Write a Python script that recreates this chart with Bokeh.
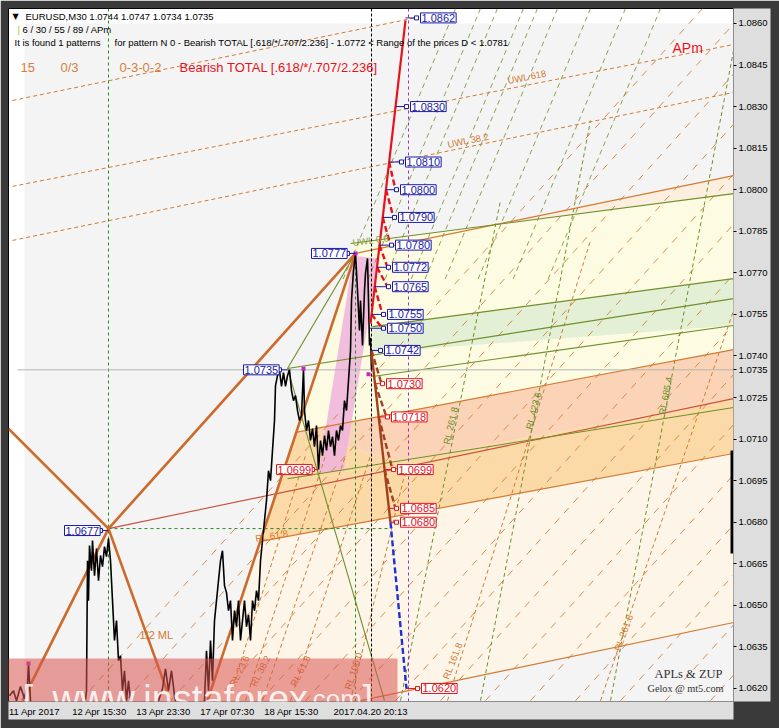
from bokeh.plotting import figure
from bokeh.models import Range1d, FixedTicker, PrintfTickFormatter, Label, BoxAnnotation
from bokeh.core.properties import value
from bokeh.embed import file_html
from bokeh.resources import INLINE

SANS = "Liberation Sans"
SERIF = "Liberation Serif"

# ---------------- data (bar index, price) ----------------
bar_idx = [1, 5, 8, 12, 16, 19, 20, 22, 25, 42,
           62, 76, 78, 79, 80, 81, 83, 84, 86, 88,
           90, 92, 94, 96, 98, 100, 102, 104, 106, 108,
           110, 112, 114, 116, 118, 120, 122, 126, 142, 150,
           154, 157, 160, 163, 166, 169, 187, 196, 198, 200,
           202, 204, 206, 208, 210, 212, 214, 216, 218, 220,
           222, 224, 226, 228, 230, 232, 234, 236, 238, 240,
           242, 244, 246, 248, 250, 252, 254, 256, 258, 260,
           262, 264, 266, 267, 269, 271, 273, 275, 277, 279,
           281, 283, 285, 287, 289, 291, 293, 295, 296, 298,
           300, 302, 304, 306, 308, 310, 312, 314, 316, 318,
           320, 322, 324, 326, 328, 330, 332, 334, 336, 338,
           340, 342, 343, 345, 347, 349, 351, 352, 354, 356,
           357, 359, 360, 361, 362, 363]
close_prices = [1.06174, 1.06192, 1.06156, 1.06207, 1.06163, 1.06214, 1.06290, 1.06156, 1.06113, 1.06098,
                1.06091, 1.06127, 1.06192, 1.06661, 1.06517, 1.06716, 1.06625, 1.06734, 1.06607, 1.06705,
                1.06589, 1.06680, 1.06640, 1.06712, 1.06676, 1.06741, 1.06661, 1.06517, 1.06373, 1.06445,
                1.06300, 1.06318, 1.06192, 1.06264, 1.06156, 1.06228, 1.06156, 1.06113, 1.06098, 1.06156,
                1.06199, 1.06271, 1.06192, 1.06264, 1.06174, 1.06113, 1.06098, 1.06156, 1.06336, 1.06192,
                1.06373, 1.06228, 1.06445, 1.06517, 1.06589, 1.06661, 1.06697, 1.06571, 1.06546, 1.06481,
                1.06517, 1.06373, 1.06481, 1.06423, 1.06517, 1.06373, 1.06445, 1.06517, 1.06423, 1.06466,
                1.06373, 1.06517, 1.06481, 1.06553, 1.06517, 1.06661, 1.06734, 1.06806, 1.06878, 1.06986,
                1.06950, 1.07059, 1.07167, 1.07293, 1.07329, 1.07347, 1.07290, 1.07340, 1.07290, 1.07329,
                1.07351, 1.07275, 1.07239, 1.07257, 1.07203, 1.07167, 1.07185, 1.07354, 1.07203, 1.07131,
                1.07167, 1.07095, 1.07138, 1.07073, 1.07149, 1.06990, 1.07095, 1.07040, 1.07113, 1.07059,
                1.07131, 1.07073, 1.07109, 1.07040, 1.07131, 1.07095, 1.07149, 1.07131, 1.07239, 1.07203,
                1.07311, 1.07419, 1.07600, 1.07708, 1.07770, 1.07636, 1.07492, 1.07600, 1.07438, 1.07636,
                1.07698, 1.07752, 1.07600, 1.07438, 1.07466, 1.07350]

y_ticks = [1.0620, 1.0635, 1.0650, 1.0665, 1.0680, 1.0695, 1.0710, 1.0725, 1.0740,
           1.0755, 1.0770, 1.0785, 1.0800, 1.0815, 1.0830, 1.0845, 1.0860]
x_tick_bars = [26, 91, 155, 219, 283]
x_tick_labels = ["11 Apr 2017", "12 Apr 15:30", "13 Apr 23:30", "17 Apr 07:30", "18 Apr 15:30"]
bid_price = 1.0735
cursor_bar = 362
cursor_time = "2017.04.20 20:13"

# zone fills (bar, price polygons)
zone_colors = ["#fdf5e8", "#fcdaa8", "#fbd4b8", "#fdfce3", "#fcefe0", "#e3f0d6"]
zone_x = [[251, 725, 725, 352, 199],
          [251, 287, 392, 725, 725],
          [287, 725, 725, 392],
          [347, 287, 725, 725, 342],
          [487, 725, 725],
          [364, 725, 725, 364]]
zone_y = [[1.06730, 1.07048, 1.06438, 1.06156, 1.06156],
          [1.06730, 1.07124, 1.07019, 1.07246, 1.07048],
          [1.07124, 1.07423, 1.07246, 1.07019],
          [1.07770, 1.07124, 1.07423, 1.07986, 1.07806],
          [1.07874, 1.08051, 1.07986],
          [1.07506, 1.07679, 1.07510, 1.07412]]
pattern_x = [345, 370, 335, 310]
pattern_y = [1.07762, 1.07752, 1.06986, 1.06979]

# thick zigzag / pitchfork legs
thick_x0 = [0, 100, 14, 100, 199]
thick_y0 = [1.07138, 1.06777, 1.06156, 1.06777, 1.06156]
thick_x1 = [100, 162, 100, 347, 347]
thick_y1 = [1.06777, 1.06156, 1.06777, 1.07770, 1.07770]

# thin orange lines
orng_x0 = [347, 287, 251, 352]
orng_y0 = [1.07770, 1.07124, 1.06730, 1.06156]
orng_x1 = [725, 725, 725, 725]
orng_y1 = [1.08051, 1.07423, 1.07048, 1.06438]
redline_x = [100, 725]
redline_y = [1.06777, 1.07246]

# thin green lines
grn_x0 = [342, 364, 279, 364, 279, 279, 279]
grn_y0 = [1.07806, 1.07506, 1.07355, 1.07326, 1.06957, 1.07355, 1.07355]
grn_x1 = [725, 725, 725, 725, 725, 347, 376]
grn_y1 = [1.07986, 1.07679, 1.07607, 1.07510, 1.07214, 1.07770, 1.06156]

# UWL dashed lines
uwl_x0 = [4, 4, 4]
uwl_y0 = [1.08322, 1.08012, 1.07817]
uwl_x1 = [409, 725, 725]
uwl_y1 = [1.08622, 1.08524, 1.08351]

# long orange dashed diagonals (bottom bar -> top bar)
diag_bottom = [72, 117, 162, 207, 252, 297, 342, 387, 432, 477, 522, 567, 612, 657, 702]
diag_top = [694, 739, 784, 829, 874, 919, 964, 1009, 1054, 1099, 1144, 1189, 1234, 1279, 1324]
diag_low_price = 1.06156
diag_high_price = 1.08654

# green dashed diagonals (top-right)
gdiag_top = [447, 472, 489, 515, 529, 549, 582, 617, 652]
gdiag_bottom = [334, 359, 376, 402, 416, 436, 469, 504, 539]
gdiag_top_price = 1.08654
gdiag_bottom_price = 1.07672

# RL reaction lines
rl_or_x0 = [220, 237, 254, 282, 342, 439, 592]
rl_or_y0 = [1.06156] * 7
rl_or_x1 = [297, 317, 337, 362, 397, 582, 725]
rl_or_y1 = [1.07040, 1.07040, 1.07040, 1.07040, 1.06986, 1.07817, 1.07564]
rl_ol_x0 = [392, 472, 602]
rl_ol_y0 = [1.06156, 1.06156, 1.06156]
rl_ol_x1 = [492, 582, 725]
rl_ol_y1 = [1.07961, 1.08250, 1.08502]

# projection legs
red_leg_x = [362, 397]
red_leg_y = [1.07517, 1.08611]
red_dash_x0 = [380.6, 377.5, 374.2, 371, 368.5, 366.2, 363]
red_dash_y0 = [1.0810, 1.0800, 1.0790, 1.0780, 1.0772, 1.0765, 1.0755]
red_dash_x1 = [387, 385, 382, 379, 379, 374, 374]
red_dash_y1 = [1.0800, 1.0790, 1.0780, 1.0772, 1.0765, 1.0755, 1.0750]
brown_leg_x = [363, 382]
brown_leg_y = [1.07412, 1.06799]
brown_dash_x0 = [363, 366.5, 370.2, 376]
brown_dash_y0 = [1.0742, 1.0730, 1.0718, 1.0699]
brown_dash_x1 = [373, 378, 384, 387]
brown_dash_y1 = [1.0730, 1.0718, 1.0699, 1.0685]
blue_leg_x = [382, 398]
blue_leg_y = [1.06799, 1.06199]

# price level labels
blue_prices = [1.0862, 1.0830, 1.0810, 1.0800, 1.0790, 1.0780, 1.0772, 1.0765, 1.0755, 1.0750, 1.0742, 1.0777, 1.0735, 1.0677]
blue_box = [410, 400, 395, 390, 388, 385, 382, 382, 377, 377, 374, 301, 233, 54]
blue_src = [397, 387, 380.6, 377.5, 374.2, 371, 368.5, 366.2, 363, 361.4, 363, 347, 279, 100]
red_prices = [1.0730, 1.0718, 1.0699, 1.0685, 1.0680, 1.0699, 1.0620]
red_box = [376, 381, 387, 390, 390, 266, 411]
red_src = [366.5, 370.2, 376, 380.5, 382, 310, 398]

# vertical markers
green_vline_bar = 100
green_vline2_bar = 347
black_vline_bar = 363
purple_vline_bar = 400
ml_h_price = 1.06777

ORANGE_THICK = "#cc6a2c"
ORANGE = "#d27a32"
OLIVE = "#6f8f2a"
RED = "#e8121b"
BROWN = "#a3411c"
BLUE = "#1c2fd8"
NAVY = "#1a1aa6"

Y0, Y1 = 1.06153, 1.08654
p = figure(width=779, height=728, output_backend="svg", toolbar_location=None,
           x_range=Range1d(0, 725), y_range=Range1d(Y0, Y1),
           y_axis_location="right", min_border_left=8, min_border_top=8,
           min_border_right=46, min_border_bottom=27,
           background_fill_color="white")
p.grid.visible = False
p.outline_line_color = "black"

border = "#d9d9d9"
try:
    p.yaxis[0].background_fill_color = "#dedede"
    p.xaxis[0].background_fill_color = "#dedede"
    border = "#3a3a3a"
except Exception:
    pass
p.border_fill_color = border

# axes
all_y_ticks = sorted(y_ticks + [bid_price])
p.yaxis.ticker = FixedTicker(ticks=all_y_ticks)
p.yaxis.formatter = PrintfTickFormatter(format="%.4f")
p.yaxis.major_label_text_font = SANS
p.yaxis.major_label_text_font_size = "9.5px"
p.yaxis.major_label_text_color = "black"
p.yaxis.major_tick_out = 3
p.yaxis.major_tick_in = 0
p.yaxis.major_label_standoff = 2
p.yaxis.minor_tick_line_color = None
p.yaxis.axis_line_color = None
p.xaxis.ticker = FixedTicker(ticks=x_tick_bars + [cursor_bar])
overrides = {b: t for b, t in zip(x_tick_bars, x_tick_labels)}
overrides[cursor_bar] = cursor_time
p.xaxis.major_label_overrides = overrides
p.xaxis.major_label_text_font = SANS
p.xaxis.major_label_text_font_size = "9.5px"
p.xaxis.major_label_text_color = "black"
p.xaxis.major_tick_line_color = None
p.xaxis.major_tick_out = 0
p.xaxis.major_tick_in = 0
p.xaxis.minor_tick_line_color = None
p.xaxis.minor_tick_out = 0
p.xaxis.axis_line_color = None
p.xaxis.major_label_standoff = 4

# backgrounds
p.quad(left=16, right=725, top=1.0860, bottom=Y0, fill_color="#f4f4f4", line_color=None)
p.patches(zone_x, zone_y, fill_color=zone_colors, line_color=None)
p.patch(pattern_x, pattern_y, fill_color="#eeb4dc", fill_alpha=0.85, line_color=None)

# dashed construction lines
p.segment(x0=diag_bottom, y0=[diag_low_price] * len(diag_bottom), x1=diag_top,
          y1=[diag_high_price] * len(diag_top), line_color=ORANGE, line_width=1,
          line_dash="7 7", line_alpha=0.85)
p.segment(x0=gdiag_top, y0=[gdiag_top_price] * len(gdiag_top), x1=gdiag_bottom,
          y1=[gdiag_bottom_price] * len(gdiag_bottom), line_color=OLIVE, line_width=1,
          line_dash="5 4", line_alpha=0.8)
p.segment(x0=rl_or_x0, y0=rl_or_y0, x1=rl_or_x1, y1=rl_or_y1, line_color=ORANGE,
          line_width=1, line_dash="4 3")
p.segment(x0=rl_ol_x0, y0=rl_ol_y0, x1=rl_ol_x1, y1=rl_ol_y1, line_color=OLIVE,
          line_width=1, line_dash="4 3")
p.segment(x0=uwl_x0, y0=uwl_y0, x1=uwl_x1, y1=uwl_y1, line_color=ORANGE,
          line_width=1, line_dash="4 3")

# thin solid lines
p.segment(x0=orng_x0, y0=orng_y0, x1=orng_x1, y1=orng_y1, line_color=ORANGE, line_width=1.2)
p.line(redline_x, redline_y, line_color="#c9503c", line_width=1.1)
p.segment(x0=grn_x0, y0=grn_y0, x1=grn_x1, y1=grn_y1, line_color=OLIVE, line_width=1.1)

# verticals / horizontals
p.segment(x0=[green_vline_bar], y0=[Y0], x1=[green_vline_bar], y1=[Y1],
          line_color="#1f8a1f", line_width=1, line_dash="3 3")
p.segment(x0=[green_vline2_bar], y0=[Y0], x1=[green_vline2_bar], y1=[1.07770],
          line_color="#1f8a1f", line_width=1, line_dash="3 3")
p.segment(x0=[green_vline_bar], y0=[ml_h_price], x1=[382], y1=[ml_h_price],
          line_color="#1f8a1f", line_width=1, line_dash="3 3")
p.segment(x0=[black_vline_bar], y0=[Y0], x1=[black_vline_bar], y1=[Y1],
          line_color="black", line_width=1, line_dash="3 2")
p.segment(x0=[purple_vline_bar], y0=[Y0], x1=[purple_vline_bar], y1=[Y1],
          line_color="#9b30d0", line_width=1, line_dash="3 3")
p.segment(x0=[9], y0=[bid_price], x1=[725], y1=[bid_price], line_color="#b4b4b4", line_width=1)

# thick legs
p.segment(x0=thick_x0, y0=thick_y0, x1=thick_x1, y1=thick_y1, line_color=ORANGE_THICK, line_width=2.6)

# price
p.line(bar_idx, close_prices, line_color="black", line_width=1.6)
p.scatter([20, 295, 360, 347], [1.06290, 1.07354, 1.07334, 1.07770], marker="square",
          size=4, fill_color="#d020c0", line_color=None)

# projection legs
p.line(red_leg_x, red_leg_y, line_color=RED, line_width=2.2)
p.segment(x0=red_dash_x0, y0=red_dash_y0, x1=red_dash_x1, y1=red_dash_y1,
          line_color=RED, line_width=2.4, line_dash="6 3")
p.line(brown_leg_x, brown_leg_y, line_color=BROWN, line_width=2.4)
p.segment(x0=brown_dash_x0, y0=brown_dash_y0, x1=brown_dash_x1, y1=brown_dash_y1,
          line_color=BROWN, line_width=2.4, line_dash="6 3")
p.line(blue_leg_x, blue_leg_y, line_color=BLUE, line_width=2.4, line_dash="6 3")

# right-edge range bar
p.segment(x0=[723.5], y0=[1.07059], x1=[723.5], y1=[1.06687], line_color="black", line_width=3)

# level labels with connectors
def level_labels(prices, boxes, srcs, color, fill):
    cx0, cx1, sq = [], [], []
    for pr, b, s in zip(prices, boxes, srcs):
        if s < b:
            cx0.append(s); cx1.append(b - 1); sq.append(b - 2)
        else:
            cx0.append(b + 37); cx1.append(s); sq.append(b + 38)
    p.segment(x0=cx0, y0=prices, x1=cx1, y1=prices, line_color=color, line_width=1)
    p.scatter(sq, prices, marker="square", size=4, fill_color="white", line_color=color)
    p.text(x=[b + 2 for b in boxes], y=prices, text=["%.4f" % v for v in prices],
           text_font=value(SANS), text_font_size="11px", text_color=color,
           text_baseline="middle", text_align="left",
           background_fill_color=fill, border_line_color=color, padding=1)

level_labels(blue_prices, blue_box, blue_src, NAVY, "white")
level_labels(red_prices, red_box, red_src, "#e0141e", "white")

# header texts
def txt(x, y, s, size, color, font=SANS, angle=0.0, align="left", baseline="middle"):
    p.text(x=[x], y=[y], text=[s], text_font=value(font), text_font_size=size,
           text_color=color, angle=angle, text_align=align, text_baseline=baseline)

txt(4, 1.08625, "▼", "8px", "black", font="DejaVu Sans")
txt(17, 1.08625, "EURUSD,M30  1.0744 1.0747 1.0734 1.0735", "9.5px", "black")
txt(9, 1.08578, "|", "9.5px", "#9acd32")
txt(14, 1.08578, "6 / 30 / 55 / 89 / APm", "9.5px", "black")
txt(6, 1.08531, "It is found 1 patterns", "9.5px", "black")
txt(106, 1.08531, "for pattern N 0 - Bearish TOTAL [.618/*/.707/2.236] - 1.0772 < Range of the prices D < 1.0781",
    "9.5px", "black")
txt(12, 1.08441, "15", "13px", "#d4803a")
txt(52, 1.08441, "0/3", "13px", "#d4803a")
txt(111, 1.08441, "0-3-0-2", "13px", "#d4803a")
txt(171, 1.08441, "Bearish TOTAL [.618/*/.707/2.236]", "13px", RED)
txt(664, 1.08513, "APm", "14px", RED)

# construction labels
txt(499, 1.08394, "UWL 618", "9.5px", ORANGE, angle=0.19)
txt(439, 1.08163, "UWL 38.2", "9.5px", ORANGE, angle=0.2)
txt(344, 1.07809, "UWL 0.0", "9.5px", "#8aa040", angle=0.13)
txt(657, 1.07257, "RL 685.4", "9.5px", OLIVE, angle=1.38, align="center")
txt(525, 1.07203, "RL 423.6", "9.5px", OLIVE, angle=1.33, align="center")
txt(442, 1.07149, "RL 261.8", "9.5px", OLIVE, angle=1.35, align="center")
txt(615, 1.06402, "RL 261.8", "9.5px", ORANGE, angle=1.22, align="center")
txt(444, 1.06300, "RL 161.8", "9.5px", ORANGE, angle=1.2, align="center")
txt(345, 1.06264, "RL 100.0", "9.5px", ORANGE, angle=1.25, align="center")
txt(231, 1.06264, "RL 23.6", "9.5px", ORANGE, angle=1.1, align="center")
txt(252, 1.06264, "RL 38.2", "9.5px", ORANGE, angle=1.1, align="center")
txt(292, 1.06264, "RL 61.8", "9.5px", ORANGE, angle=1.1, align="center")
txt(247, 1.06741, "RL 61.8", "9.5px", ORANGE, angle=0.17)
txt(131, 1.06394, "1/2 ML", "11px", ORANGE)
txt(680, 1.06254, "APLs & ZUP", "12.5px", "#333333", font=SERIF, align="center")
txt(677, 1.06199, "Gelox @ mt5.com", "10.3px", "#333333", font=SERIF, align="center")

# watermark band
p.add_layout(BoxAnnotation(left=-8, right=389, top=1.06308, bottom=1.0600,
                           fill_color="#d9534f", fill_alpha=0.55, line_color=None))
for xb, s, sz in [(14, "[", "38px"), (44, "www.instaforex", "38px"), (297, ".com", "26px"), (354, "]", "38px")]:
    p.add_layout(Label(x=xb, y=1.06163, text=s, text_font=SANS, text_font_size=sz,
                       text_color="white", text_alpha=0.85, text_baseline="alphabetic"))

open("out.html", "w").write(file_html(p, INLINE))
